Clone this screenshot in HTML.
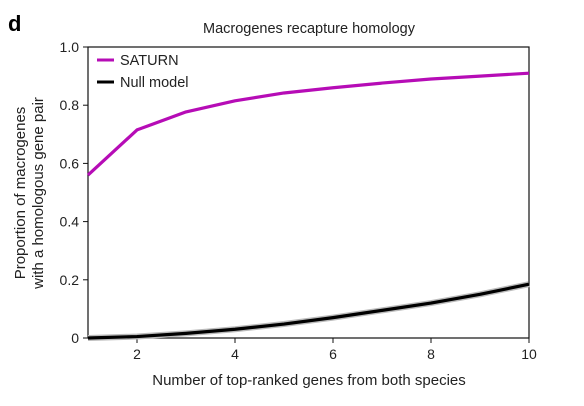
<!DOCTYPE html>
<html><head><meta charset="utf-8"><style>
body{margin:0;background:#fff;width:584px;height:401px;overflow:hidden;font-family:"Liberation Sans",sans-serif}
</style></head><body>
<svg id="chart" width="584" height="401" font-family="Liberation Sans, sans-serif">
<text x="8" y="31" font-size="22" font-weight="bold">d</text>
<text x="309" y="33" font-size="14.5" text-anchor="middle" fill="#222">Macrogenes recapture homology</text>
<text x="309" y="385" font-size="15" text-anchor="middle" fill="#222">Number of top-ranked genes from both species</text>
<text transform="translate(25,193) rotate(-90)" font-size="15" text-anchor="middle" fill="#222">Proportion of macrogenes</text>
<text transform="translate(43,193) rotate(-90)" font-size="15" text-anchor="middle" fill="#222">with a homologous gene pair</text>
<g id="axes"></g>
<g id="series"></g>
<g>
<line x1="97" y1="60" x2="114" y2="60" stroke="#b60cb6" stroke-width="3"/>
<text x="120" y="65" font-size="14.5" fill="#222">SATURN</text>
<line x1="97" y1="82" x2="114" y2="82" stroke="#000" stroke-width="3"/>
<text x="120" y="87" font-size="14.5" fill="#222">Null model</text>
</g>
</svg>
<script>
const xs = [1,2,3,4,5,6,7,8,9,10];
const saturn = [0.56,0.715,0.777,0.815,0.842,0.86,0.876,0.89,0.90,0.91];
const nullModel = [0.0,0.005,0.016,0.03,0.048,0.07,0.095,0.12,0.15,0.185];
const xTicks = [2,4,6,8,10];
const yTicks = [0,0.2,0.4,0.6,0.8,1.0];
const yTickLabels = ["0","0.2","0.4","0.6","0.8","1.0"];
const L=88,R=529,T=47,B=338;
const xS=v=>L+(v-1)/9*(R-L);
const yS=v=>B-v*(B-T);
const NS="http://www.w3.org/2000/svg";
const ax=document.getElementById('axes'), se=document.getElementById('series');
function mk(tag,attrs,parent){const e=document.createElementNS(NS,tag);for(const k in attrs)e.setAttribute(k,attrs[k]);parent.appendChild(e);return e;}
const frame=mk('rect',{x:L,y:T,width:R-L,height:B-T,fill:'none',stroke:'#111','stroke-width':1.2},ax);


xTicks.forEach(v=>{
 const t=mk('line',{x1:xS(v),x2:xS(v),y1:B,y2:B+5,stroke:'#111'},ax);
 
 
 const l=mk('text',{x:xS(v),y:B+21,'font-size':14,'text-anchor':'middle',fill:'#222'},ax);
 l.textContent=v;
 
 
});
yTicks.forEach((v,i)=>{
 const t=mk('line',{x1:L-5,x2:L,y1:yS(v),y2:yS(v),stroke:'#111'},ax);
 
 
 const l=mk('text',{x:L-9,y:yS(v)+5,'font-size':14,'text-anchor':'end',fill:'#222'},ax);
 l.textContent=yTickLabels[i];
 
 
});
function pts(arr){return xs.map((x,i)=>xS(x)+','+yS(arr[i])).join(' ');}
const band=mk('polyline',{points:pts(nullModel),fill:'none',stroke:'#bbb','stroke-width':6,'stroke-linejoin':'round'},se);


const nl=mk('polyline',{points:pts(nullModel),fill:'none',stroke:'#000','stroke-width':3.2,'stroke-linejoin':'round'},se);


const sl=mk('polyline',{points:pts(saturn),fill:'none',stroke:'#b60cb6','stroke-width':3.2,'stroke-linejoin':'round'},se);


</script>
</body></html>
